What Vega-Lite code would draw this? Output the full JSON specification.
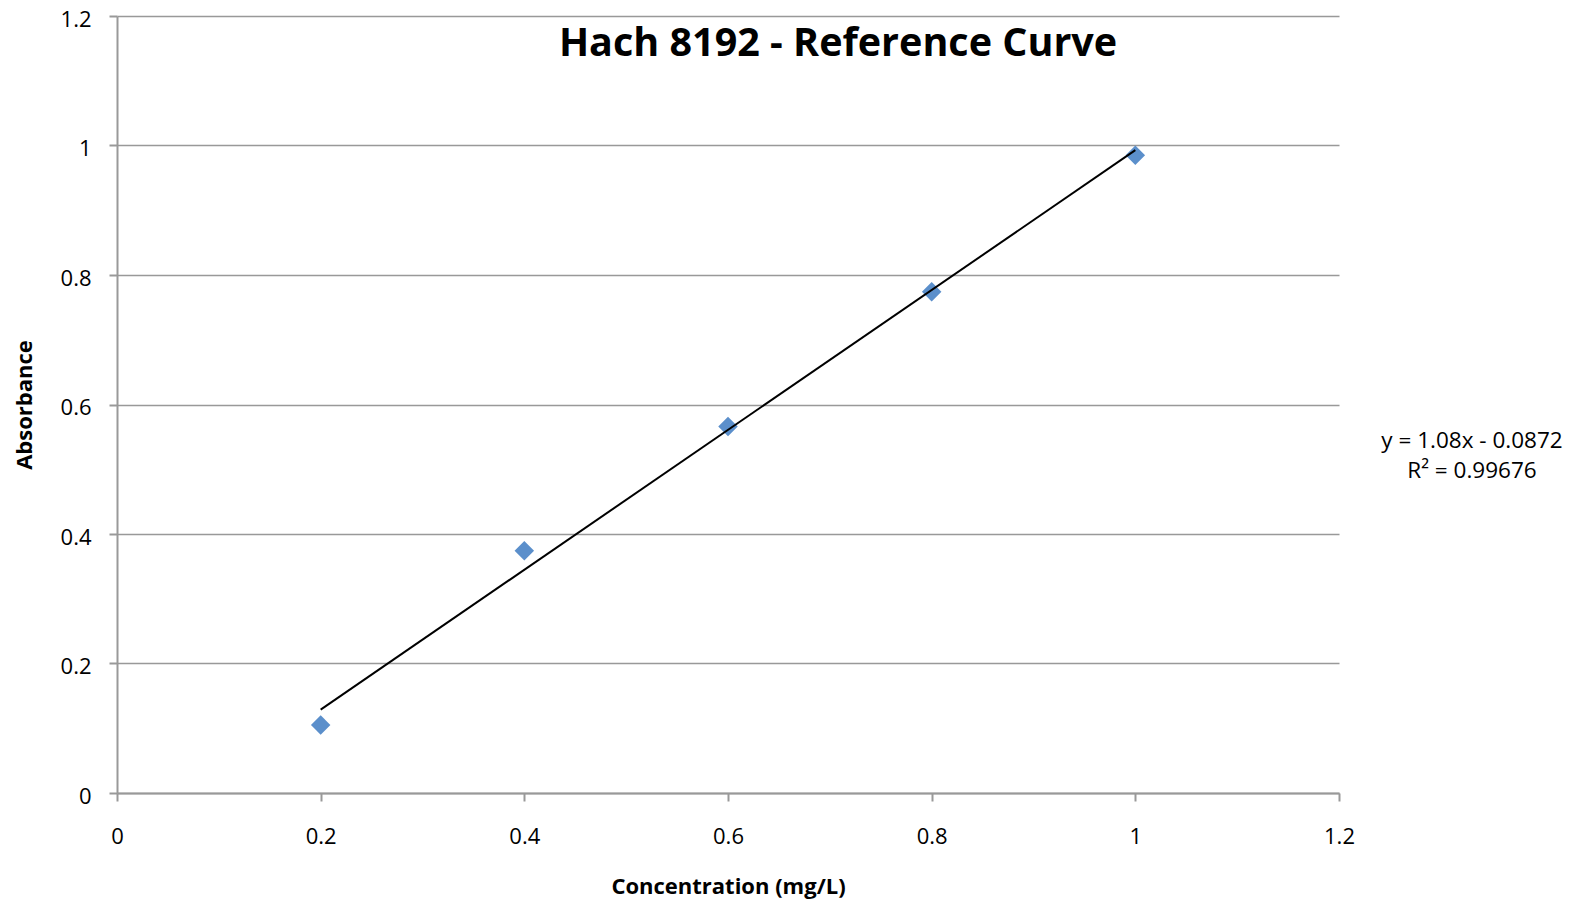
{
  "$schema": "https://vega.github.io/schema/vega-lite/v6.json",
  "autosize": {"type": "none"},
  "width": 1222,
  "height": 777,
  "padding": {"left": 117, "top": 16, "right": 235, "bottom": 109},
  "background": "white",
  "title": {
    "text": "Hach 8192 - Reference Curve",
    "font": "Open Sans",
    "fontSize": 39.5,
    "fontWeight": "bold",
    "color": "black",
    "anchor": "middle",
    "dx": 110,
    "dy": 30,
    "offset": -45,
    "baseline": "middle"
  },
  "config": {
    "view": {"stroke": null},
    "axis": {
      "labelFont": "Open Sans",
      "titleFont": "Open Sans",
      "labelFontSize": 22,
      "titleFontSize": 22,
      "titleFontWeight": "bold",
      "labelColor": "black",
      "titleColor": "black",
      "domainColor": "#999999",
      "tickColor": "#999999",
      "gridColor": "#999999",
      "domainWidth": 2,
      "tickWidth": 2,
      "gridWidth": 1.5,
      "tickSize": 8,
      "labelFlush": false,
      "labelOverlap": false,
      "format": "~g"
    }
  },
  "datasets": {
    "points": [
      {"conc": 0.2, "abs": 0.105},
      {"conc": 0.4, "abs": 0.374},
      {"conc": 0.6, "abs": 0.566},
      {"conc": 0.8, "abs": 0.774},
      {"conc": 1.0, "abs": 0.985}
    ],
    "trend": [
      {"conc": 0.2, "abs": 0.1288},
      {"conc": 1.0, "abs": 0.9928}
    ],
    "equation": [
      {"label": "y = 1.08x - 0.0872\nR² = 0.99676"}
    ]
  },
  "layer": [
    {
      "data": {"name": "points"},
      "mark": {"type": "point", "shape": "diamond", "filled": true, "size": 380, "color": "#5b8fcb", "opacity": 1},
      "encoding": {
        "x": {
          "field": "conc", "type": "quantitative",
          "scale": {"domain": [0, 1.2], "nice": false},
          "axis": {"values": [0, 0.2, 0.4, 0.6, 0.8, 1, 1.2], "grid": false, "title": "Concentration (mg/L)", "labelPadding": 25, "titlePadding": 29}
        },
        "y": {
          "field": "abs", "type": "quantitative",
          "scale": {"domain": [0, 1.2], "nice": false},
          "axis": {"values": [0, 0.2, 0.4, 0.6, 0.8, 1, 1.2], "grid": true, "title": "Absorbance", "labelPadding": 18, "titlePadding": 24, "labelOffset": 3}
        }
      }
    },
    {
      "data": {"name": "trend"},
      "mark": {"type": "line", "color": "black", "strokeWidth": 2},
      "encoding": {
        "x": {"field": "conc", "type": "quantitative"},
        "y": {"field": "abs", "type": "quantitative"}
      }
    },
    {
      "data": {"name": "equation"},
      "mark": {"type": "text", "font": "Open Sans", "fontSize": 22.5, "color": "black", "align": "center", "baseline": "middle", "lineBreak": "\n", "lineHeight": 29.5},
      "encoding": {
        "x": {"datum": 1.3306},
        "y": {"datum": 0.543},
        "text": {"field": "label"}
      }
    }
  ]
}
